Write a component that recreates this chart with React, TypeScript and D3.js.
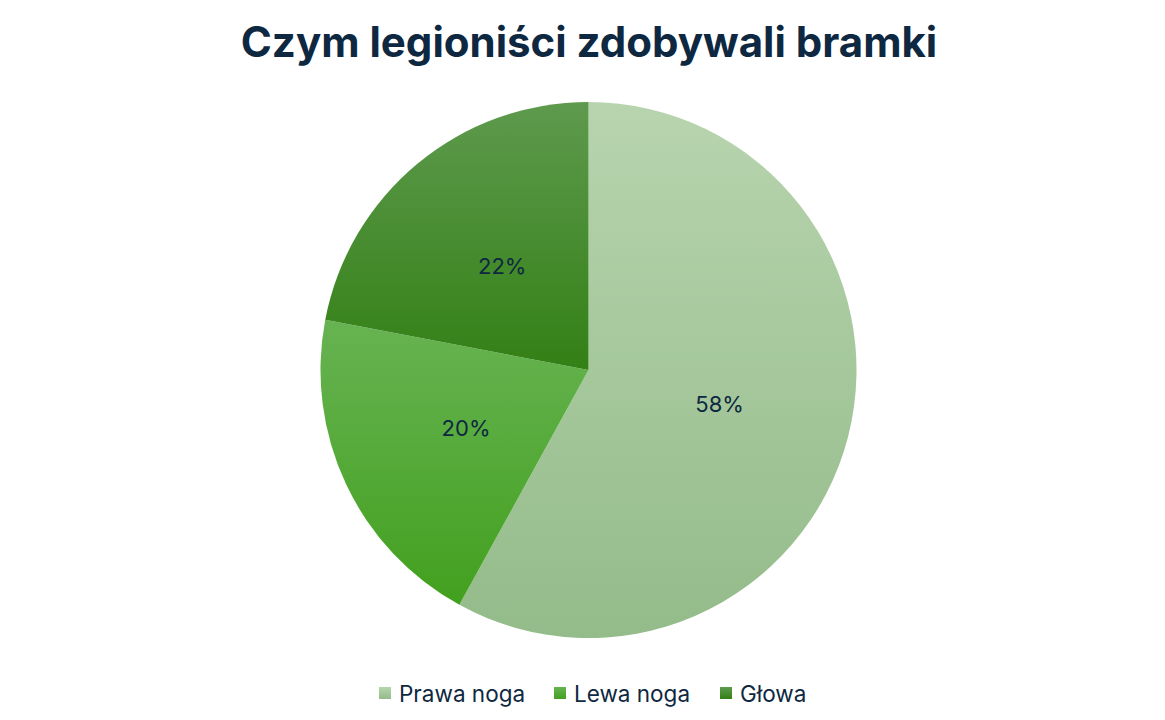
import React, { useEffect, useRef } from 'react';
import * as d3 from 'd3';

const categories = ['Prawa noga', 'Lewa noga', 'Głowa'];
const shares = [58, 20, 22];
const gradientTop = ['#b7d4ae', '#67b352', '#5e9a4e'];
const gradientBottom = ['#94bb8a', '#42a01e', '#338015'];

const W = 1165;
const H = 720;
const textColor = '#0e2841';

export default function App() {
  const svgRef = useRef<SVGSVGElement>(null);

  useEffect(() => {
    if (!svgRef.current) return;
    const svg = d3.select(svgRef.current);
    svg.selectAll('*').remove();

    const cx = 588.5;
    const cy = 370;
    const radius = 268;

    const data = categories.map((c, i) => ({ name: c, value: shares[i], i }));
    const pie = d3.pie<any>().value((d) => d.value).sort(null);
    const arcs = pie(data);
    const arc = d3.arc<any>().innerRadius(0).outerRadius(radius);

    const defs = svg.append('defs');
    arcs.forEach((a, i) => {
      // vertical gradient over the slice's own bounding box
      defs
        .append('linearGradient')
        .attr('id', `grad-${i}`)
        .attr('x1', 0)
        .attr('y1', 0)
        .attr('x2', 0)
        .attr('y2', 1)
        .call((g) => {
          g.append('stop').attr('offset', '0%').attr('stop-color', gradientTop[i]);
          g.append('stop').attr('offset', '100%').attr('stop-color', gradientBottom[i]);
        });
    });

    svg
      .append('text')
      .attr('x', 589)
      .attr('y', 57)
      .attr('text-anchor', 'middle')
      .style('font-family', 'Inter, "Open Sans", sans-serif')
      .style('font-weight', 700)
      .style('font-size', '42px')
      .style('fill', textColor)
      .text('Czym legioniści zdobywali bramki');

    const g = svg.append('g').attr('transform', `translate(${cx},${cy})`);

    g.selectAll('path')
      .data(arcs)
      .enter()
      .append('path')
      .attr('d', arc)
      .attr('fill', (_, i) => `url(#grad-${i})`);

    const labelArc = d3.arc<any>().innerRadius(radius * 0.505).outerRadius(radius * 0.505);
    g.selectAll('text.lbl')
      .data(arcs)
      .enter()
      .append('text')
      .attr('class', 'lbl')
      .attr('transform', (d) => {
        const [x, y] = labelArc.centroid(d);
        return `translate(${x},${y})`;
      })
      .attr('text-anchor', 'middle')
      .attr('dominant-baseline', 'central')
      .style('font-family', 'Inter, "Open Sans", sans-serif')
      .style('font-size', '22px')
      .style('fill', textColor)
      .text((d) => `${d.data.value}%`);

    // legend
    const legendX = [379, 554, 720];
    const legend = svg.append('g').attr('transform', 'translate(0,693)');
    const items = legend
      .selectAll('g')
      .data(data)
      .enter()
      .append('g')
      .attr('transform', (_, i) => `translate(${legendX[i]},0)`);
    items
      .append('rect')
      .attr('x', 0)
      .attr('y', -6)
      .attr('width', 12)
      .attr('height', 12)
      .attr('fill', (_, i) => `url(#grad-${i})`);
    items
      .append('text')
      .attr('x', 20)
      .attr('y', 0)
      .attr('dominant-baseline', 'central')
      .style('font-family', 'Inter, "Open Sans", sans-serif')
      .style('font-size', '22.5px')
      .style('fill', textColor)
      .text((d) => d.name);
  }, []);

  return (
    <svg
      ref={svgRef}
      width={W}
      height={H}
      style={{ position: 'absolute', left: 0, top: 0, background: '#fff' }}
    />
  );
}
